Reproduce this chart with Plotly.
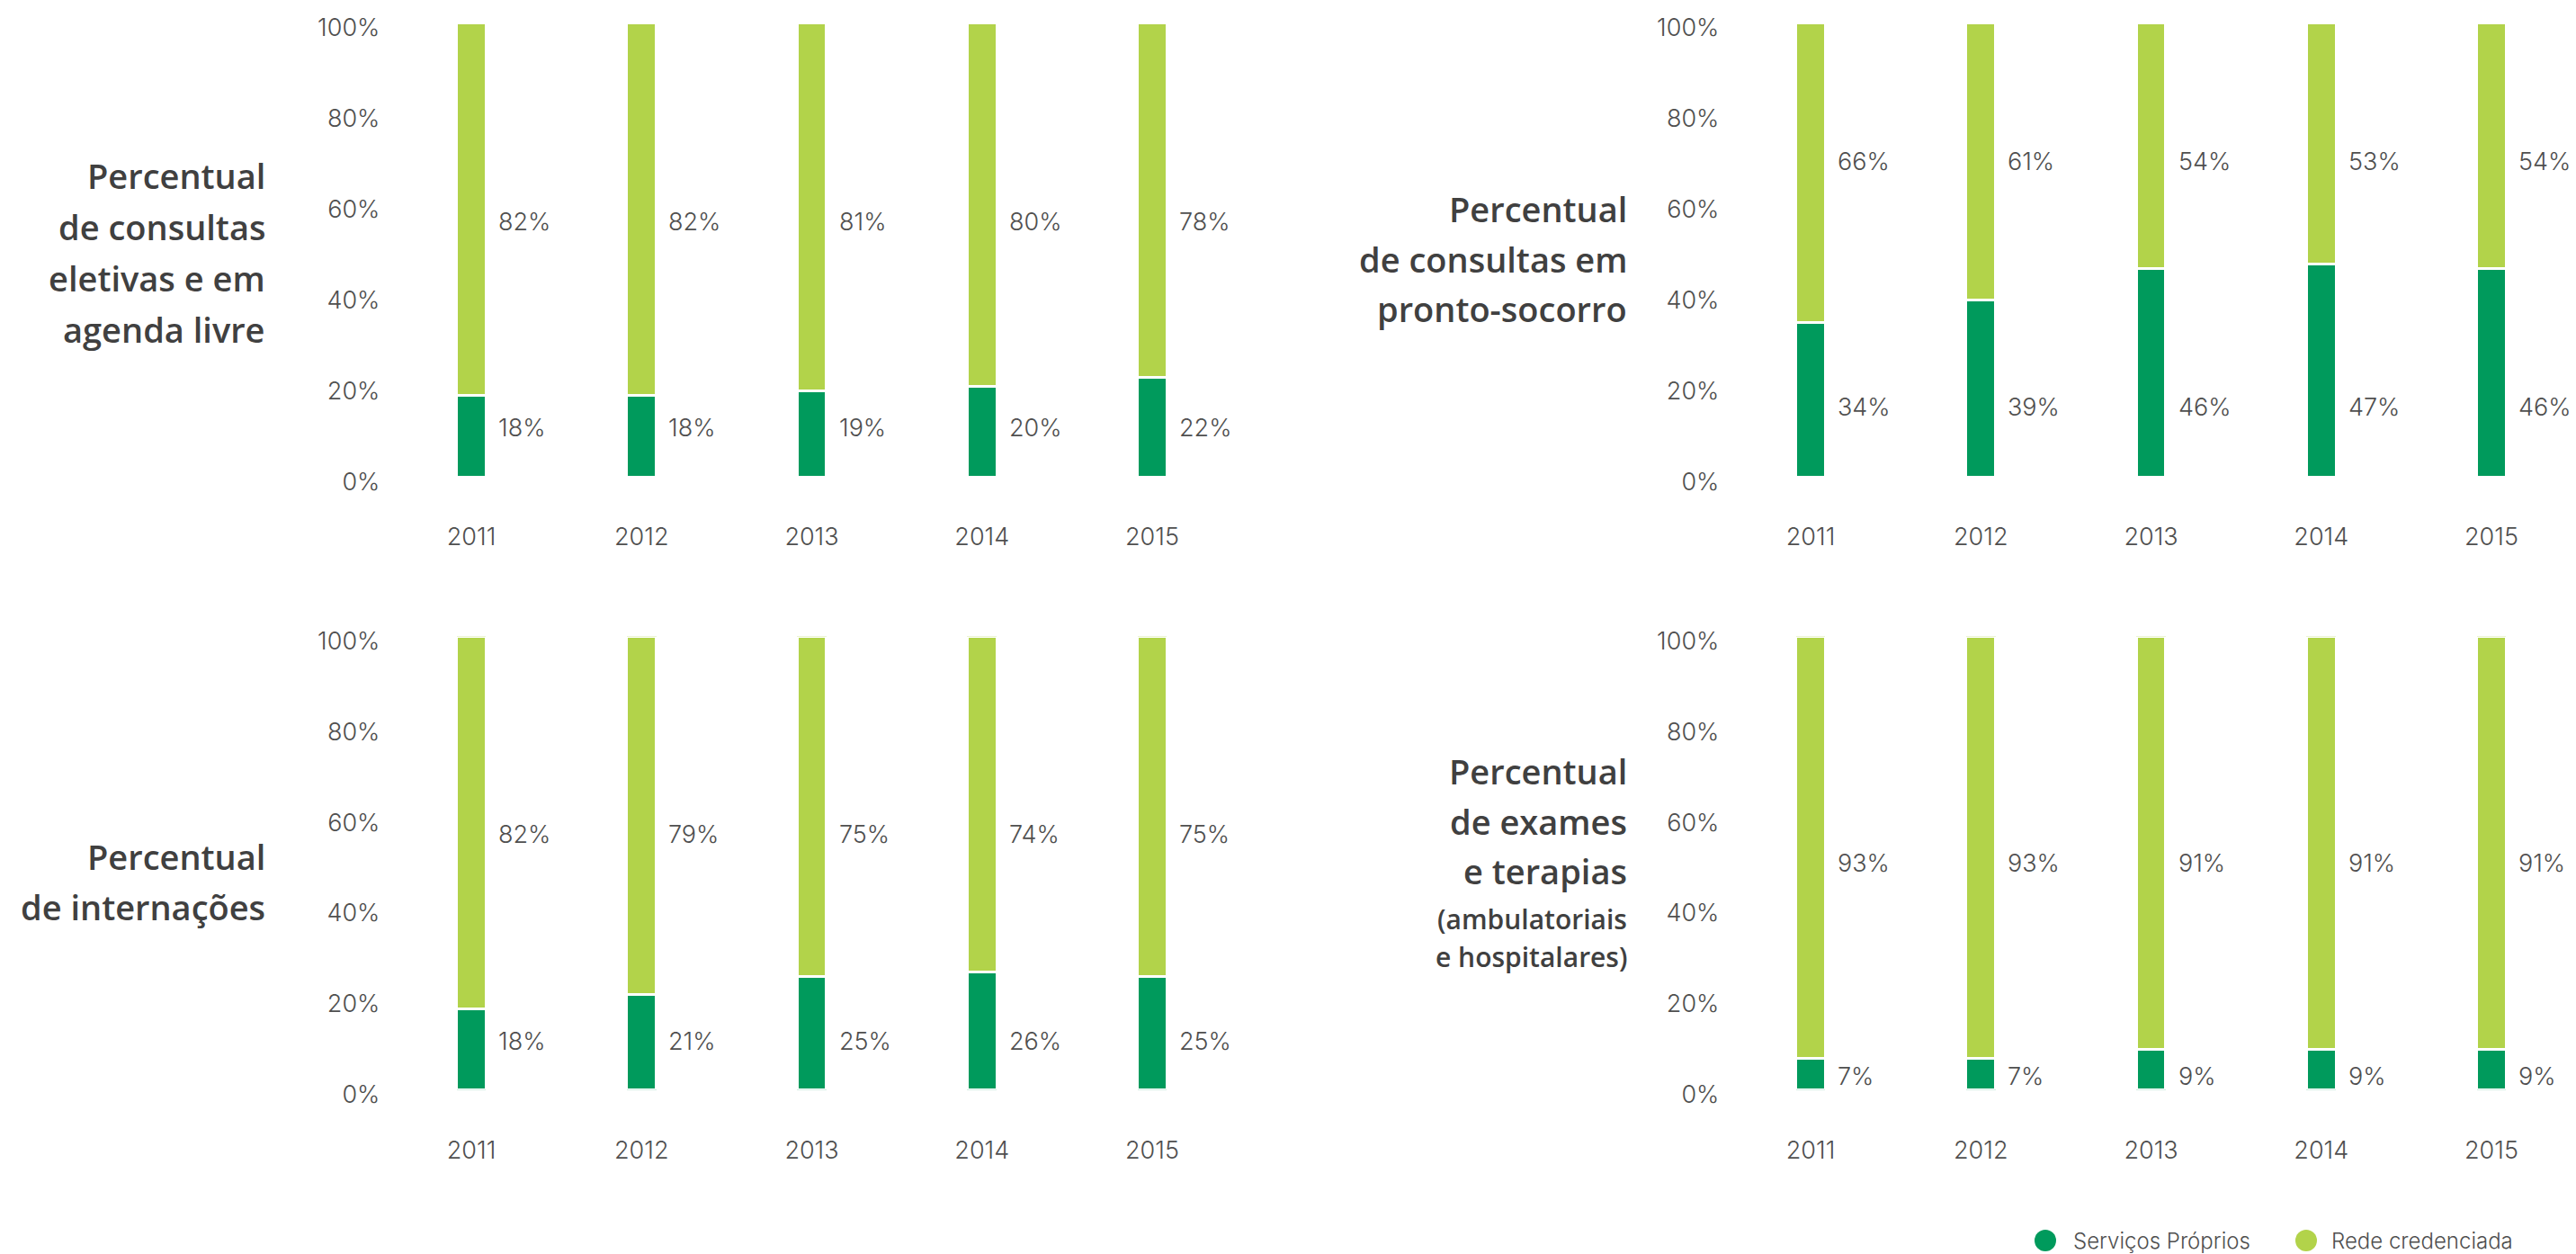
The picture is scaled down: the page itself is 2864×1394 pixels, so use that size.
import plotly.graph_objects as go

# ---- data -------------------------------------------------------------
years = ["2011", "2012", "2013", "2014", "2015"]

proprios_eletivas = [18, 18, 19, 20, 22]
rede_eletivas = [82, 82, 81, 80, 78]

proprios_pronto_socorro = [34, 39, 46, 47, 46]
rede_pronto_socorro = [66, 61, 54, 53, 54]

proprios_internacoes = [18, 21, 25, 26, 25]
rede_internacoes = [82, 79, 75, 74, 75]

proprios_exames = [7, 7, 9, 9, 9]
rede_exames = [93, 93, 91, 91, 91]

y_tick_values = [0, 20, 40, 60, 80, 100]
y_tick_labels = [f"{v}%" for v in y_tick_values]

series_names = ["Serviços Próprios", "Rede credenciada"]

titles_eletivas = ["Percentual", "de consultas", "eletivas e em", "agenda livre"]
titles_pronto_socorro = ["Percentual", "de consultas em", "pronto-socorro"]
titles_internacoes = ["Percentual", "de internações"]
titles_exames = ["Percentual", "de exames", "e terapias"]
subtitles_exames = ["(ambulatoriais", "e hospitalares)"]

# ---- styling ----------------------------------------------------------
W, H = 2864, 1394
DARK = "#009A5C"
LIGHT = "#B2D34A"
TEXT = "#4f4f4f"
TITLE = "#404040"
NUM_FONT = "Inter"
TITLE_FONT = "Open Sans"


def fx(px):
    return px / W


def fy(py):
    return 1 - py / H


# panel layout: axis suffix, x domain (px), y domain (px of 0% / 100%),
# x range, title line centres, label heights (in % units) for each series
panels = [
    dict(ax="", xdom=(429.4, 1375.6), ypx=(530.2, 25.8), xr=[-0.5, 4.5],
         proprios=proprios_eletivas, rede=rede_eletivas,
         lab=(10.9, 56.2), title_right=297,
         titles=titles_eletivas, title_y=[195, 252, 309, 366], sub=[], sub_y=[]),
    dict(ax="2", xdom=(1918.4, 2845.7), ypx=(530.2, 25.8), xr=[-0.5, 4.4],
         proprios=proprios_pronto_socorro, rede=rede_pronto_socorro,
         lab=(15.4, 69.6), title_right=1811,
         titles=titles_pronto_socorro, title_y=[232, 288, 343], sub=[], sub_y=[]),
    dict(ax="3", xdom=(429.4, 1375.6), ypx=(1211.8, 707.4), xr=[-0.5, 4.5],
         proprios=proprios_internacoes, rede=rede_internacoes,
         lab=(10.8, 56.3), title_right=297,
         titles=titles_internacoes, title_y=[952, 1008], sub=[], sub_y=[]),
    dict(ax="4", xdom=(1918.4, 2845.7), ypx=(1211.8, 707.4), xr=[-0.5, 4.4],
         proprios=proprios_exames, rede=rede_exames,
         lab=(3.1, 50.1), title_right=1811,
         titles=titles_exames, title_y=[857, 913, 968],
         sub=subtitles_exames, sub_y=[1021, 1063]),
]

fig = go.Figure()
annotations = []
shapes = []

for p in panels:
    xa = "x" + p["ax"]
    ya = "y" + p["ax"]
    for vals, color in ((p["proprios"], DARK), (p["rede"], LIGHT)):
        fig.add_trace(go.Bar(
            x=years, y=vals, xaxis=xa, yaxis=ya,
            marker=dict(color=color, line=dict(color="white", width=3)),
            width=0.174, showlegend=False, hoverinfo="skip",
        ))
    # value labels beside each bar (x given as category index)
    for vals, ly in ((p["proprios"], p["lab"][0]), (p["rede"], p["lab"][1])):
        for i, v in enumerate(vals):
            annotations.append(dict(
                x=i, y=ly, xref=xa, yref=ya, text=f"{v}%",
                showarrow=False, xanchor="left", yanchor="middle", xshift=28,
                font=dict(family=NUM_FONT, size=27, color=TEXT, weight=300),
            ))
    # panel title
    for line, cy in zip(p["titles"], p["title_y"]):
        annotations.append(dict(
            x=fx(p["title_right"]), y=fy(cy), xref="paper", yref="paper",
            text=line, showarrow=False, xanchor="right", yanchor="middle",
            font=dict(family=TITLE_FONT, size=38, color=TITLE, weight=600),
        ))
    for line, cy in zip(p["sub"], p["sub_y"]):
        annotations.append(dict(
            x=fx(p["title_right"]), y=fy(cy), xref="paper", yref="paper",
            text=line, showarrow=False, xanchor="right", yanchor="middle",
            font=dict(family=TITLE_FONT, size=30, color=TITLE, weight=600),
        ))

    xkey = "xaxis" + p["ax"]
    ykey = "yaxis" + p["ax"]
    fig.update_layout(**{
        xkey: dict(
            domain=[fx(p["xdom"][0]), fx(p["xdom"][1])], range=p["xr"],
            anchor=ya, type="category", showgrid=False, zeroline=False,
            showline=False, ticks="", ticklabelstandoff=48, automargin=False,
            tickfont=dict(family=NUM_FONT, size=27, color=TEXT, weight=300),
        ),
        ykey: dict(
            domain=[fy(p["ypx"][0]), fy(p["ypx"][1])], range=[0, 100],
            anchor=xa, showgrid=False, zeroline=False, showline=False,
            ticks="", tickvals=y_tick_values, ticktext=y_tick_labels,
            ticklabelstandoff=6, ticklabelshift=5, automargin=False,
            tickfont=dict(family=NUM_FONT, size=27, color=TEXT, weight=300),
        ),
    })

# legend drawn as circles with captions at the lower right
legend_items = [(series_names[0], DARK, 2274, 2303),
                (series_names[1], LIGHT, 2564, 2590)]
for name, color, cx, tx in legend_items:
    r = 12
    shapes.append(dict(
        type="circle", xref="paper", yref="paper",
        x0=fx(cx - r), x1=fx(cx + r), y0=fy(1379 + r), y1=fy(1379 - r),
        fillcolor=color, line=dict(width=0),
    ))
    annotations.append(dict(
        x=fx(tx), y=fy(1379), xref="paper", yref="paper", text=name,
        showarrow=False, xanchor="left", yanchor="middle",
        font=dict(family=NUM_FONT, size=24, color=TEXT, weight=300),
    ))

fig.update_layout(
    width=W, height=H, barmode="stack",
    margin=dict(l=0, r=0, t=0, b=0, pad=0, autoexpand=False),
    paper_bgcolor="white", plot_bgcolor="white",
    annotations=annotations, shapes=shapes,
    showlegend=False,
)

fig.write_html("out.html")
